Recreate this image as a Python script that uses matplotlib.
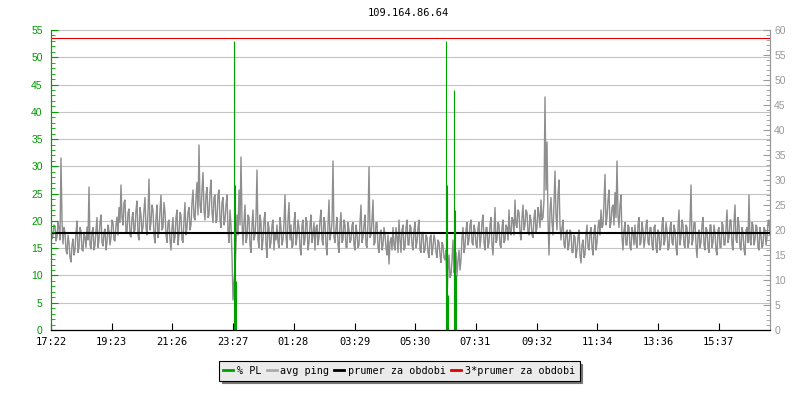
import numpy as np
import matplotlib
matplotlib.use("Agg")
import matplotlib.pyplot as plt
from matplotlib.ticker import MultipleLocator

# avg ping [ms] at 17:22 + 4*i minutes
ping_a = [
    20.0, 19.0, 20.8, 18.6, 20.4, 34.4, 17.2, 19.5, 15.2, 17.5,
    13.6, 18.2, 16.0, 21.8, 16.5, 19.8, 15.8, 18.5, 20.6, 28.6,
    16.2, 20.5, 17.0, 22.5, 18.0, 23.0, 16.8, 20.2, 17.5, 19.8,
    18.5, 21.5, 17.8, 22.6, 24.5, 29.0, 21.0, 26.0, 19.5, 24.2,
    18.6, 23.5, 20.0, 25.8, 18.0, 23.0, 20.5, 26.5, 19.0, 30.2,
    21.5, 24.0, 17.4, 25.0, 19.8, 27.0, 20.5, 23.5, 17.5, 22.0,
    16.0, 22.5, 18.5, 24.0, 19.0, 23.0, 17.5, 25.5, 20.5, 24.5,
    21.0, 28.0, 22.0, 29.5, 37.0, 23.5, 31.5, 22.0, 28.5, 23.0,
    30.0, 21.5, 27.0, 22.0, 28.0, 20.5, 26.5, 22.0, 27.0, 17.5,
    21.0, 6.0, 12.0, 23.0, 28.0, 34.6, 17.0, 25.0, 18.5, 22.5,
    15.5, 24.0, 19.0, 32.0, 16.5, 21.5, 18.0, 23.5, 14.5, 20.5,
    17.5, 22.0, 19.5, 21.0, 16.5, 20.5, 18.0, 27.0, 16.5, 25.5,
    21.0, 17.0, 23.5, 18.5, 20.5, 15.0, 22.0, 18.0, 21.5, 17.5,
    23.0, 19.0, 16.0, 21.0, 18.5, 24.0, 17.0, 21.5, 15.0, 26.0,
    19.5, 33.8, 17.5, 22.5, 15.5, 23.5, 18.0, 21.0, 16.5, 20.0,
    18.0, 21.5, 16.0, 19.5, 17.0, 25.0, 18.5, 23.0, 16.5, 32.6,
    19.0, 26.0, 17.5, 21.5, 15.5, 20.0, 17.0, 19.0, 15.0, 13.2,
    18.5, 20.5, 16.0, 18.5, 22.0, 15.5, 21.0, 16.5, 22.0, 17.0,
    20.5, 16.0, 21.5, 17.5, 22.0, 15.5, 19.5, 16.0, 18.5, 14.5,
    19.0, 16.5, 18.0, 14.5, 17.5, 13.5, 17.0, 14.0, 6.6, 15.0,
    11.0, 18.0, 12.5, 10.8, 16.0, 14.0, 20.5, 16.5, 21.5, 18.0,
    22.0, 17.0, 20.0, 16.5, 21.5, 18.5, 23.0, 16.0, 20.5, 17.5,
    22.5, 15.0, 24.5, 18.0, 21.0, 16.5, 22.0, 18.0, 20.5, 24.0,
    19.0, 22.0, 26.0, 20.5, 23.5, 18.0, 25.0, 21.0, 23.5, 19.0,
    22.0, 18.5, 24.0, 20.5, 23.0, 26.0, 22.5, 46.6, 37.6, 15.0,
    26.5, 19.0, 31.8, 20.0, 30.0, 18.0, 22.0, 16.5, 20.0, 17.0,
    19.5, 15.5, 18.5, 16.0, 20.0, 13.4, 18.0, 15.0, 21.0, 16.0,
    20.5, 15.0, 21.0, 17.5, 22.0, 24.0, 21.0, 31.1, 22.5, 28.0,
    21.5, 25.0, 27.5, 33.8, 20.5, 27.0, 16.0, 21.5, 17.0, 20.5,
    16.0, 19.5, 21.0, 16.5, 22.5, 17.5, 20.0, 18.0, 22.0, 17.0,
    20.5, 16.0, 21.0, 15.5, 19.5, 17.0, 22.5, 18.0, 20.0, 16.5,
    21.5, 17.0, 20.0, 15.0, 24.0, 18.5, 21.0, 16.5, 20.5, 17.5,
    29.0, 18.0, 21.5, 14.5, 20.0, 17.5, 22.5, 16.0, 20.0, 15.5,
    21.0, 17.5, 19.5, 15.0, 20.5, 16.5, 21.0, 17.0, 24.0, 18.5,
    22.0, 16.0, 25.0, 17.5, 21.0, 16.0, 19.5, 15.0, 20.5, 27.0,
    17.0, 21.0, 18.0, 20.5, 16.0, 19.0, 17.0, 20.0, 18.5, 22.0,
]
# avg ping [ms] at 17:24 + 4*i minutes (the samples in between)
ping_b = [
    18.2, 21.0, 17.8, 21.5, 18.0, 22.0, 20.5, 16.0, 19.0, 14.5,
    17.0, 15.0, 19.5, 15.5, 20.5, 16.0, 19.5, 16.5, 18.0, 17.0,
    19.5, 16.0, 20.0, 16.5, 21.5, 17.5, 19.5, 16.0, 21.0, 17.0,
    22.0, 18.0, 21.0, 19.0, 21.5, 22.5, 25.5, 19.5, 23.5, 19.0,
    22.5, 19.5, 24.0, 19.0, 24.5, 19.5, 24.0, 20.5, 23.5, 20.0,
    25.0, 19.0, 22.5, 18.5, 24.0, 20.0, 25.5, 19.0, 21.5, 18.0,
    20.5, 17.5, 22.5, 17.0, 23.5, 18.0, 22.0, 19.0, 23.5, 20.0,
    25.5, 22.5, 26.5, 23.0, 25.0, 28.0, 24.0, 27.0, 22.5, 27.5,
    23.5, 26.5, 21.5, 27.0, 22.0, 25.5, 21.0, 25.0, 20.0, 24.0,
    15.0, 9.5, 17.0, 19.0, 21.0, 22.0, 21.5, 17.5, 23.0, 17.0,
    21.0, 18.0, 22.5, 18.0, 23.0, 16.0, 22.0, 17.0, 21.5, 16.5,
    21.0, 16.0, 18.0, 17.5, 22.5, 17.0, 21.5, 18.5, 22.0, 18.0,
    16.5, 21.5, 17.0, 22.0, 16.5, 21.0, 17.0, 22.5, 16.0, 21.0,
    17.5, 21.5, 20.5, 17.0, 22.0, 18.0, 22.5, 17.0, 21.0, 18.0,
    21.5, 18.5, 20.5, 17.0, 21.0, 17.5, 22.0, 16.5, 21.5, 17.5,
    21.0, 17.0, 21.0, 16.5, 21.5, 17.5, 21.0, 17.0, 21.5, 18.5,
    22.0, 17.0, 21.5, 16.5, 19.5, 16.0, 20.5, 16.5, 19.0, 17.5,
    16.0, 17.0, 20.5, 15.5, 18.0, 20.0, 16.0, 20.5, 17.0, 21.0,
    17.0, 20.0, 16.5, 20.5, 16.0, 19.5, 15.5, 19.0, 15.5, 18.5,
    15.0, 19.0, 15.5, 18.0, 15.0, 17.5, 14.5, 16.0, 12.0, 10.5,
    14.0, 11.5, 15.5, 14.0, 12.0, 18.5, 15.5, 20.0, 17.0, 21.0,
    17.5, 21.0, 17.0, 20.5, 16.5, 21.5, 17.5, 20.5, 16.5, 21.0,
    17.0, 20.0, 17.5, 21.5, 17.0, 20.5, 17.5, 21.0, 18.0, 19.5,
    22.5, 19.0, 21.0, 24.0, 19.5, 22.5, 20.0, 24.0, 19.5, 23.0,
    19.0, 22.5, 19.5, 24.5, 20.5, 22.0, 26.0, 28.0, 22.0, 24.0,
    21.5, 25.5, 23.0, 27.0, 21.0, 20.5, 17.0, 19.5, 16.0, 20.0,
    15.5, 19.0, 14.5, 18.5, 15.0, 17.0, 14.5, 19.0, 16.5, 19.5,
    16.5, 19.5, 16.0, 20.5, 19.0, 20.5, 25.5, 21.0, 26.0, 20.5,
    24.5, 21.0, 22.5, 23.0, 25.0, 18.5, 20.0, 17.0, 21.0, 16.5,
    20.5, 17.0, 17.5, 21.0, 17.0, 21.5, 16.5, 21.0, 17.5, 20.5,
    17.0, 20.5, 16.5, 20.0, 16.0, 21.0, 17.0, 21.5, 16.0, 20.5,
    17.5, 21.0, 16.5, 20.5, 17.0, 22.0, 17.0, 21.0, 16.5, 21.5,
    17.0, 21.5, 17.0, 19.0, 16.5, 21.0, 17.0, 20.5, 16.5, 21.0,
    16.5, 21.0, 16.0, 20.0, 16.5, 21.5, 17.0, 20.5, 17.5, 22.0,
    17.0, 21.5, 18.0, 22.5, 16.5, 20.5, 16.0, 20.0, 17.5, 18.0,
    21.5, 17.0, 21.0, 16.5, 20.5, 16.5, 20.5, 17.0, 21.5, 19.0,
]
step_min = 4
ping = np.column_stack([ping_a, ping_b]).ravel()
ping_t = np.arange(len(ping)) * (step_min / 2)

# packet loss [%] (minutes from 17:22)
pl_t = [366, 368, 370, 790, 792, 794, 806, 808, 810]
pl_v = [53, 26.5, 9, 53, 26.5, 6.5, 44, 22, 10]

avg_ping = 19.45  # prumer za obdobi

tick_pos = [0, 121, 242, 364, 485, 607, 728, 849, 971, 1092, 1214, 1335]
tick_lab = ["17:22", "19:23", "21:26", "23:27", "01:28", "03:29",
            "05:30", "07:31", "09:32", "11:34", "13:36", "15:37"]

GREEN = "#00a000"
GRAY = "#999999"
MONO = "DejaVu Sans Mono"
SANS = "Liberation Sans"

fig = plt.figure(figsize=(8, 4), dpi=100)
ax = fig.add_axes([51 / 800, 70 / 400, 719 / 800, 300 / 400])
ax2 = ax.twinx()

# ping on base axes, scale on the right
ax.set_xlim(0, 1438)
ax.set_ylim(0, 60)
for g in np.arange(0, 56, 5):
    ax.axhline(g * 60 / 55, color="#c4c4c4", lw=0.8, zorder=0, clip_on=False)
ax.plot(ping_t, ping, color="#8e8e8e", lw=1.0, zorder=2)
ax.axhline(avg_ping, color="black", lw=1.5, zorder=3)
ax.axhline(3 * avg_ping, color="#e00000", lw=0.8, zorder=3)

ax.yaxis.tick_right()
ax.yaxis.set_major_locator(MultipleLocator(5))
ax.yaxis.set_minor_locator(MultipleLocator(1))
ax.tick_params(axis="y", which="major", direction="in", length=5, color=GRAY,
               labelcolor=GRAY, labelsize=7.5, pad=3)
ax.tick_params(axis="y", which="minor", direction="in", length=3, color=GRAY)
for lab in ax.get_yticklabels():
    lab.set_family(SANS)

ax.set_xticks(tick_pos)
ax.set_xticklabels(tick_lab, family=MONO, fontsize=7.5)
ax.tick_params(axis="x", direction="in", length=5, color="black", pad=5)

# packet loss on twin axes, scale on the left
ax2.set_ylim(0, 55)
ax2.vlines(pl_t, 0, pl_v, color=GREEN, lw=0.8)
ax2.yaxis.tick_left()
ax2.yaxis.set_major_locator(MultipleLocator(5))
ax2.yaxis.set_minor_locator(MultipleLocator(1))
ax2.tick_params(axis="y", which="major", direction="in", length=5, color=GREEN,
                labelcolor="#009900", labelsize=7.5, pad=6)
ax2.tick_params(axis="y", which="minor", direction="in", length=3, color=GREEN)
for lab in ax2.get_yticklabels():
    lab.set_family(SANS)

for a in (ax, ax2):
    a.spines["top"].set_visible(False)
    a.spines["left"].set_color(GREEN)
    a.spines["right"].set_color(GRAY)
    a.spines["bottom"].set_color("black")
    for s in a.spines.values():
        s.set_linewidth(0.8)

fig.text(0.511, 0.967, "109.164.86.64", family=MONO, fontsize=7.5,
         ha="center", va="center")

handles = [
    plt.Line2D([], [], color=GREEN, lw=2),
    plt.Line2D([], [], color="#aaaaaa", lw=2),
    plt.Line2D([], [], color="black", lw=2),
    plt.Line2D([], [], color="#e00000", lw=2),
]
labels = ["% PL", "avg ping", "prumer za obdobi", "3*prumer za obdobi"]
leg = fig.legend(handles, labels, loc="center", bbox_to_anchor=(0.499, 0.0725),
                 ncol=4, prop={"family": MONO, "size": 7.3}, handlelength=1.0,
                 handletextpad=0.35, columnspacing=0.5, borderpad=0.45,
                 fancybox=False, framealpha=1, facecolor="#ebebeb",
                 edgecolor="black", shadow={"color": "#777777", "alpha": 1})
leg.get_frame().set_linewidth(0.8)

fig.savefig("out.png", dpi=100)
